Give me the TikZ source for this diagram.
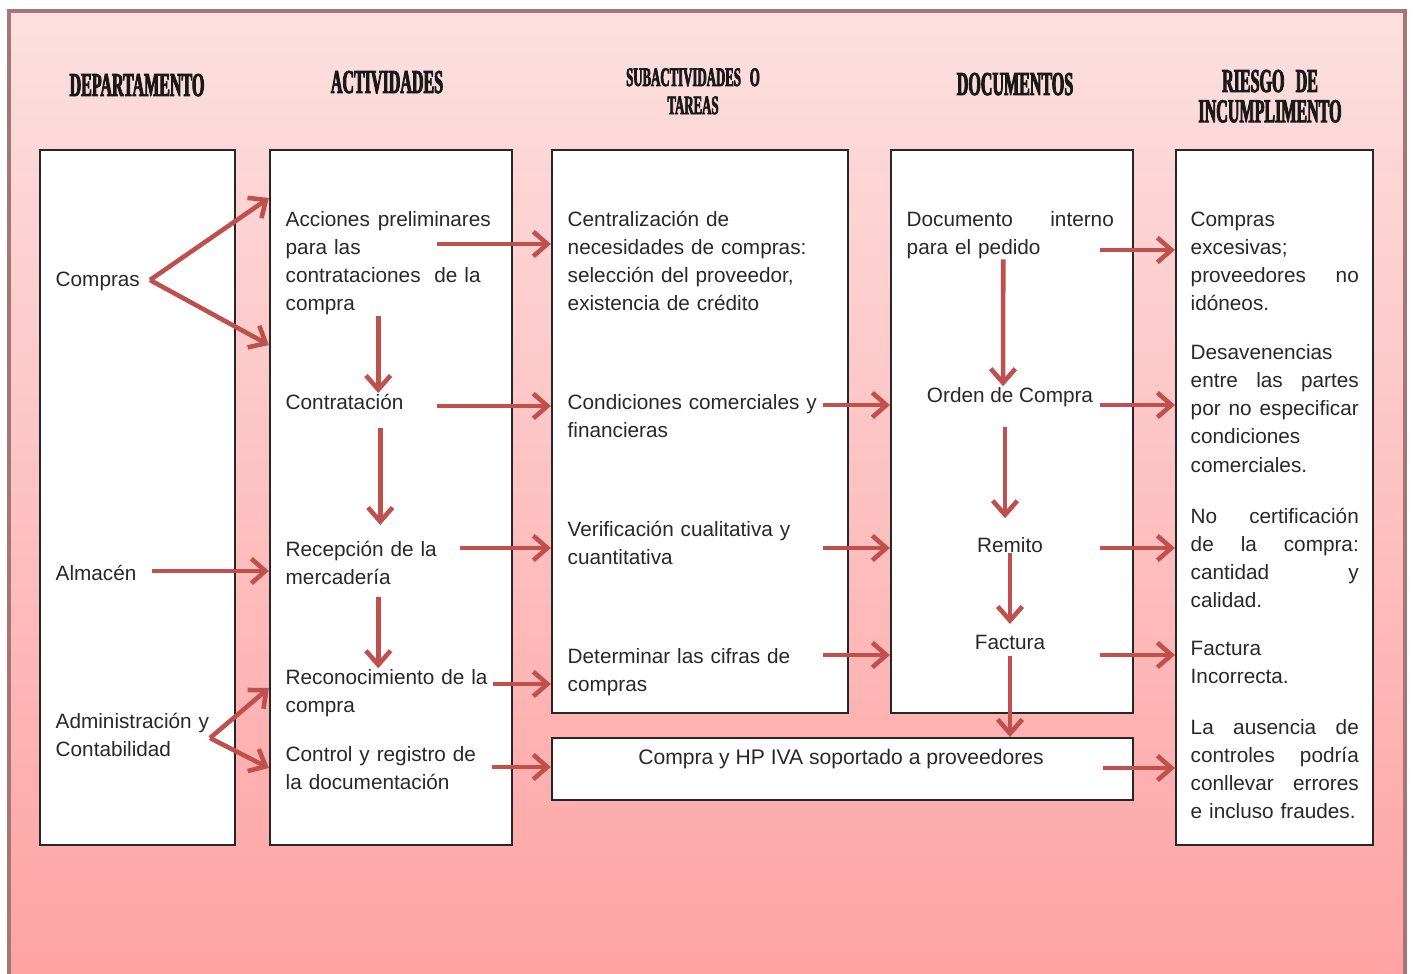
\documentclass[tikz,border=0pt]{standalone}
\usepackage{fontspec}
\setmainfont{Liberation Sans}
\newfontfamily\headfont{Liberation Serif}[FakeStretch=0.48,FakeBold=2.5]
\usetikzlibrary{arrows.meta}

\definecolor{marco}{RGB}{165,118,118}
\definecolor{rosaalto}{RGB}{252,224,224}
\definecolor{rosabajo}{RGB}{255,162,162}
\definecolor{flecharoja}{RGB}{192,80,77}
\definecolor{texto}{RGB}{40,40,40}

\tikzset{
  caja/.style={draw=black!85, fill=white, line width=0.6pt, inner sep=0pt},
  titulo/.style={font=\headfont\bfseries\fontsize{9.5}{8.6}\selectfont, text=black!90,
    anchor=base, align=center, text width=3cm, inner sep=0pt},
  txt/.style={font=\fontsize{5.9}{8.05}\selectfont, text=texto, inner sep=0pt,
    anchor=base west, align=left},
  cen/.style={font=\fontsize{5.9}{8.05}\selectfont, text=texto, inner sep=0pt, anchor=base},
  flecha/.style={draw=flecharoja, line width=1.3pt,
    -{Straight Barb[length=4pt,width=7pt]}},
}

\begin{document}
\begin{tikzpicture}[x=0.01cm,y=-0.01cm]
\useasboundingbox (0,0) rectangle (1413,973);
\clip (0,0) rectangle (1413,973);

% fondo
\shade[top color=rosaalto, bottom color=rosabajo] (9,11) rectangle (1405,990);
\draw[marco, line width=1.4pt] (9,11) rectangle (1405,990);

% titulos
\node[titulo] (hdep) at (137,96) {DEPARTAMENTO};
\node[titulo] (hact) at (387,93) {ACTIVIDADES};
\node[titulo, font=\headfont\bfseries\fontsize{7.6}{8}\selectfont] (hsub) at (693,86) {SUBACTIVIDADES O\\TAREAS};
\node[titulo] (hdoc) at (1015,95) {DOCUMENTOS};
\node[titulo, font=\headfont\bfseries\fontsize{9.5}{8.6}\selectfont] (hrie) at (1270,92) {RIESGO DE\\INCUMPLIMENTO};

% cajas
\node[caja, minimum width=1.95cm, minimum height=6.95cm] (bdep) at (137.5,497.5) {};
\node[caja, minimum width=2.42cm, minimum height=6.95cm] (bact) at (391,497.5) {};
\node[caja, minimum width=2.96cm, minimum height=5.63cm] (bsub) at (700,431.5) {};
\node[caja, minimum width=2.42cm, minimum height=5.63cm] (bdoc) at (1012,431.5) {};
\node[caja, minimum width=5.81cm, minimum height=0.62cm] (biva) at (842.5,769) {};
\node[caja, minimum width=1.97cm, minimum height=6.95cm] (brie) at (1274.5,497.5) {};

% departamento
\node[txt] (tcompras) at (55,286) {Compras};
\node[txt] (talm) at (55,580) {Almacén};
\node[txt, text width=1.7cm] (tadm) at (55,728) {Administración y\\Contabilidad};

% actividades
\node[txt, text width=2.05cm] (tacc) at (285,226) {Acciones \hfill preliminares\\para las\\contrataciones\ \ de la\\compra};
\node[txt, text width=2.05cm] (tcontr) at (285,409) {Contratación};
\node[txt, text width=2.05cm] (trecep) at (285,556) {Recepción de la\\mercadería};
\node[txt, text width=2.05cm] (trecon) at (285,684) {Reconocimiento de la\\compra};
\node[txt, text width=2.05cm] (tctrl) at (285,761) {Control y registro de\\la documentación};

% subactividades
\node[txt, text width=2.5cm] (tcent) at (567,226) {Centralización de\\necesidades de compras:\\selección del proveedor,\\existencia de crédito};
\node[txt, text width=2.5cm] (tcond) at (567,409) {Condiciones comerciales y\\financieras};
\node[txt, text width=2.5cm] (tverif) at (567,536) {Verificación cualitativa y\\cuantitativa};
\node[txt, text width=2.5cm] (tdet) at (567,663) {Determinar las cifras de\\compras};

% documentos
\node[txt, text width=2.07cm] (tdocint) at (906,226) {Documento \hfill interno\\para el pedido};
\node[cen] (torden) at (1010,402) {Orden de Compra};
\node[cen] (tremito) at (1010,552) {Remito};
\node[cen] (tfact) at (1010,649) {Factura};
\node[cen, font=\fontsize{6}{8}\selectfont] (tiva) at (841,764) {Compra y HP IVA soportado a proveedores};

% riesgos
\node[txt, text width=1.68cm] (tr1) at (1190,226) {Compras\\excesivas;\\proveedores \hfill no\\idóneos.};
\node[txt, text width=1.68cm] (tr2) at (1190,359) {Desavenencias\\entre \hfill las \hfill partes\\por \hfill no \hfill especificar\\condiciones\\comerciales.};
\node[txt, text width=1.68cm] (tr3) at (1190,523) {No \hfill certificación\\de \hfill la \hfill compra:\\cantidad \hfill y\\calidad.};
\node[txt, text width=1.68cm] (tr4) at (1190,655) {Factura\\Incorrecta.};
\node[txt, text width=1.68cm] (tr5) at (1190,734) {La \hfill ausencia \hfill de\\controles \hfill podría\\conllevar \hfill errores\\e incluso fraudes.};

% puntos de salida
\coordinate (pcomp) at (150,280);
\coordinate (palm) at (152,571);
\coordinate (padm) at (210,738);
\coordinate (sacc) at (437,244);
\coordinate (scontr) at (437,406);
\coordinate (srecep) at (460,548);
\coordinate (srecon) at (493,684);
\coordinate (sctrl) at (492,767);
\coordinate (scond) at (823,405);
\coordinate (sverif) at (823,548);
\coordinate (sdet) at (823,655);
\coordinate (sdoc) at (1100,250);
\coordinate (sorden) at (1100,405);
\coordinate (sremito) at (1100,548);
\coordinate (sfact) at (1100,655);
\coordinate (siva) at (1103,768);

% flechas departamento -> actividades
\draw[flecha] (pcomp) -- (bact.west |- 0,198);
\draw[flecha] (pcomp) -- (bact.west |- 0,345);
\draw[flecha] (palm) -- (bact.west |- palm);
\draw[flecha] (padm) -- (bact.west |- 0,688);
\draw[flecha] (padm) -- (bact.west |- 0,768);

% flechas dentro de actividades
\draw[flecha] ([xshift=-1mm]tacc.south) -- ([xshift=-1mm]tcontr.north);
\draw[flecha, shorten <=1.8mm, shorten >=1.5mm] ([xshift=-0.8mm]tcontr.south) -- ([xshift=-0.8mm]trecep.north);
\draw[flecha, shorten <=1.2mm] ([xshift=-1mm]trecep.south) -- ([xshift=-1mm]trecon.north);

% flechas actividades -> subactividades
\draw[flecha] (sacc) -- (bsub.west |- sacc);
\draw[flecha] (scontr) -- (bsub.west |- scontr);
\draw[flecha] (srecep) -- (bsub.west |- srecep);
\draw[flecha] (srecon) -- (bsub.west |- srecon);
\draw[flecha] (sctrl) -- (biva.west |- sctrl);

% flechas subactividades -> documentos
\draw[flecha] (scond) -- (bdoc.west |- scond);
\draw[flecha] (sverif) -- (bdoc.west |- sverif);
\draw[flecha] (sdet) -- (bdoc.west |- sdet);

% flechas dentro de documentos
\draw[flecha] ([xshift=-0.7mm]tdocint.south) -- ([xshift=-0.7mm]torden.north);
\draw[flecha, shorten <=2mm, shorten >=1.8mm] ([xshift=-0.5mm]torden.south) -- ([xshift=-0.5mm]tremito.north);
\draw[flecha, shorten >=1mm] (tremito.south) -- (tfact.north);
\draw[flecha, shorten <=0.6mm] (tfact.south) -- (biva.north -| tfact.south);

% flechas documentos -> riesgos
\draw[flecha] (sdoc) -- (brie.west |- sdoc);
\draw[flecha] (sorden) -- (brie.west |- sorden);
\draw[flecha] (sremito) -- (brie.west |- sremito);
\draw[flecha] (sfact) -- (brie.west |- sfact);
\draw[flecha] (siva) -- (brie.west |- siva);
\end{tikzpicture}
\end{document}
